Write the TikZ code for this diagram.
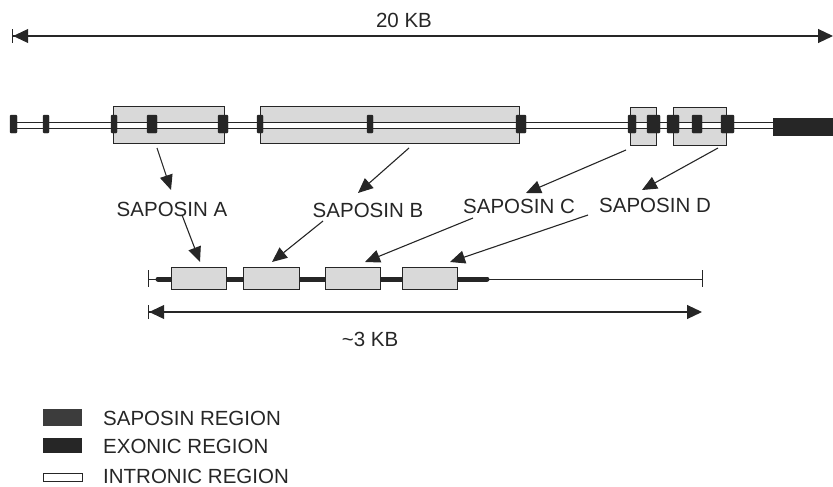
\documentclass[tikz,border=0pt]{standalone}
\usepackage{fontspec}
\setmainfont{Liberation Sans}
\usetikzlibrary{arrows.meta}
\definecolor{ink}{HTML}{262626}
\definecolor{boxgray}{HTML}{D9D9D9}
\definecolor{sapdark}{HTML}{3C3C3C}
\tikzset{
  lbl/.style={font=\fontsize{20.5}{22}\selectfont, text=ink, inner sep=0pt},
  sapbox/.style={draw=ink, line width=0.9pt, fill=boxgray},
  exonbox/.style={fill=ink, draw=ink, line width=0.4pt, rounded corners=1pt},
  intron/.style={draw=ink, line width=0.9pt, fill=white},
  ptr/.style={draw=ink, line width=1.1pt, -{Triangle[length=15pt,width=13pt]}},
  dim/.style={draw=ink, line width=1.1pt, {Bar[width=14pt,line width=1.2pt]Triangle[length=15pt,width=14pt]}-{Triangle[length=15pt,width=14pt]}}
}
\begin{document}
\begin{tikzpicture}[x=1pt,y=-1pt]
\useasboundingbox (0,0) rectangle (833,487);
% top dimension
\coordinate (tl) at (12,36);
\coordinate (tr) at (833,36);
\draw[dim] (tl) -- (tr);
\node[lbl] (kb20) at (404,20) {20 KB};
% saposin boxes on gene
\draw[sapbox] (113,106) rectangle (224,143);
\draw[sapbox] (260,106) rectangle (519,143);
\draw[sapbox] (630,107) rectangle (656,145);
\draw[sapbox] (673,107) rectangle (726,145);
% intron
\draw[intron] (13,122) rectangle (775,128);
% exons
\foreach \a/\b in {10/17, 43/49, 111/117, 147/157, 218/228, 257/263, 367/373, 516/526, 628/636, 647/660, 667/679, 692/702, 721/734}
  \draw[exonbox] (\a,115) rectangle (\b,133);
\fill[ink] (773,118) rectangle (833,136);
% labels
\node[lbl] (sa) at (172,209) {SAPOSIN A};
\node[lbl] (sb) at (368,210) {SAPOSIN B};
\node[lbl] (sc) at (519,206) {SAPOSIN C};
\node[lbl] (sd) at (655,205) {SAPOSIN D};
% arrow starts on gene
\coordinate (ga) at (157,148);
\coordinate (gb) at (409,148);
\coordinate (gc) at (626,150);
\coordinate (gd) at (718,148);
\draw[ptr] (ga) -- (171,190);
\draw[ptr] (gb) -- (358,193);
\draw[ptr] (gc) -- (526,193);
\draw[ptr] (gd) -- (642,190);
% cDNA
\draw[ink, line width=0.9pt] (148,279) -- (702,279);
\draw[ink, line width=0.9pt] (148,270) -- (148,287);
\draw[ink, line width=0.9pt] (702,270) -- (702,287);
\draw[ink, line width=5pt, line cap=round] (158,279) -- (487,279);
\node[sapbox, minimum width=55pt, minimum height=22pt, inner sep=0pt] (ca) at (198.5,278) {};
\node[sapbox, minimum width=56pt, minimum height=22pt, inner sep=0pt] (cb) at (271,278) {};
\node[sapbox, minimum width=55pt, minimum height=22pt, inner sep=0pt] (cc) at (353,278) {};
\node[sapbox, minimum width=55pt, minimum height=22pt, inner sep=0pt] (cd) at (430,278) {};
\draw[ptr] (182,215) -- (200,262);
\draw[ptr] (323,221) -- (272,262);
\draw[ptr] (473,218) -- (365,262);
\draw[ptr] (588,215) -- (450,262);
% bottom dimension
\coordinate (bl) at (148,312);
\coordinate (br) at (702,312);
\draw[dim] (bl) -- (br);
\node[lbl] (kb3) at (370,339) {\textasciitilde3 KB};
% legend
\fill[sapdark] (43,409) rectangle (82,426);
\node[lbl, anchor=west] (l1) at (103,418) {SAPOSIN REGION};
\fill[ink] (43,438) rectangle (82,453);
\node[lbl, anchor=west] (l2) at (103,446) {EXONIC REGION};
\draw[ink, line width=0.9pt, fill=white] (43,473) rectangle (82,481);
\node[lbl, anchor=west] (l3) at (103,476) {INTRONIC REGION};
\end{tikzpicture}
\end{document}
